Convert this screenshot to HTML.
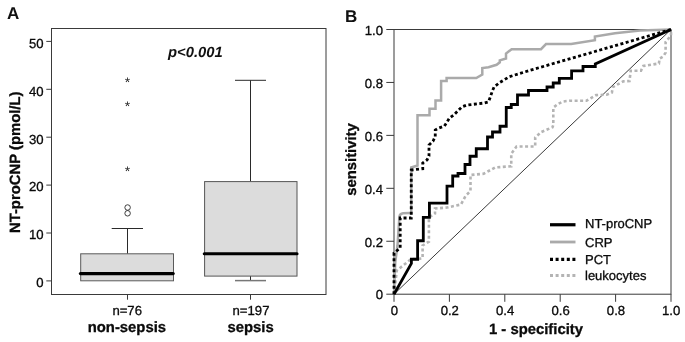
<!DOCTYPE html>
<html><head><meta charset="utf-8">
<style>
html,body{margin:0;padding:0;background:#fff;}
svg{display:block;font-family:"Liberation Sans",sans-serif;text-rendering:geometricPrecision;}
svg{filter:grayscale(1);}
.t{font-size:13.15px;fill:#0a0a0a;stroke:#0a0a0a;stroke-width:0.3px;}
.b{font-size:14.85px;font-weight:bold;fill:#0a0a0a;stroke:#0a0a0a;stroke-width:0.3px;}
.ax{stroke:#3a3a3a;stroke-width:1;fill:none;}
</style></head><body>
<svg width="685" height="342" viewBox="0 0 685 342">
<rect width="685" height="342" fill="#fff"/>

<!-- ===== Panel A ===== -->
<text x="7" y="18.6" font-size="17" font-weight="bold" fill="#111">A</text>
<rect class="ax" x="51.5" y="28.5" width="274.5" height="266"/>
<!-- y ticks -->
<g class="ax">
<path d="M46.3 41.4H51.5M46.3 89.3H51.5M46.3 137.2H51.5M46.3 185.1H51.5M46.3 233H51.5M46.3 280.9H51.5"/>
<path d="M127.5 294.5V299.7M250.5 294.5V299.7"/>
</g>
<g class="t" text-anchor="end">
<text x="43.5" y="47.7">50</text>
<text x="43.5" y="95.6">40</text>
<text x="43.5" y="143.5">30</text>
<text x="43.5" y="191.4">20</text>
<text x="43.5" y="239.3">10</text>
<text x="43.5" y="287.2">0</text>
</g>
<text class="b" transform="translate(19.8,162.3) rotate(-90)" text-anchor="middle">NT-proCNP (pmol/L)</text>
<text x="195.4" y="57" font-size="14.8" font-weight="bold" font-style="italic" fill="#111" text-anchor="middle">p&lt;0.001</text>

<!-- box 1 -->
<g stroke="#2a2a2a" stroke-width="1" fill="none">
<path d="M127.5 228.5V253.8M111.7 228.5H143"/>
<rect x="80.7" y="253.8" width="92.8" height="27" fill="#dcdcdc" stroke="#5a5a5a"/>
</g>
<path d="M80.4 273.6H173.2" stroke="#000" stroke-width="3.1" stroke-linecap="round"/>
<circle cx="127.6" cy="207.5" r="2.75" fill="none" stroke="#2a2a2a" stroke-width="0.9"/>
<circle cx="127.6" cy="213.3" r="2.75" fill="none" stroke="#2a2a2a" stroke-width="0.9"/>
<g font-size="14" fill="#222" text-anchor="middle">
<text x="127.5" y="87.2">*</text>
<text x="127.5" y="110.5">*</text>
<text x="127.5" y="175.9">*</text>
</g>
<!-- box 2 -->
<g stroke="#2a2a2a" stroke-width="1" fill="none">
<path d="M250.5 80.3V181.5M235 80.3H266M250.5 276V280.5"/>
<rect x="204.6" y="181.6" width="92.4" height="94.5" fill="#dcdcdc" stroke="#555"/>
</g>
<path d="M235 280.6H266" stroke="#777" stroke-width="1.5"/>
<path d="M204.3 253.7H297" stroke="#000" stroke-width="3.1" stroke-linecap="round"/>

<g class="t" text-anchor="middle">
<text x="127.2" y="315.2">n=76</text>
<text x="251" y="315.2">n=197</text>
</g>
<g class="b" text-anchor="middle">
<text x="126.9" y="331.6">non-sepsis</text>
<text x="250.6" y="331.6">sepsis</text>
</g>

<!-- ===== Panel B ===== -->
<text x="345" y="22.2" font-size="17" font-weight="bold" fill="#111">B</text>
<rect class="ax" x="394" y="29.5" width="277" height="264.7"/>
<g class="ax">
<path d="M386.3 29.5H394M386.3 82.44H394M386.3 135.38H394M386.3 188.32H394M386.3 241.26H394M386.3 294.2H394"/>
<path d="M394 294.2V301.8M449.4 294.2V301.8M504.8 294.2V301.8M560.2 294.2V301.8M615.6 294.2V301.8M671 294.2V301.8"/>
<path d="M394 294.2L671 29.5" stroke-width="0.9" stroke="#222"/>
</g>
<g class="t" text-anchor="end">
<text x="383" y="34.7">1.0</text>
<text x="383" y="87.7">0.8</text>
<text x="383" y="140.6">0.6</text>
<text x="383" y="193.6">0.4</text>
<text x="383" y="246.5">0.2</text>
<text x="383" y="299.4">0</text>
</g>
<g class="t" text-anchor="middle">
<text x="394.3" y="315">0</text>
<text x="449.8" y="315">0.2</text>
<text x="505.2" y="315">0.4</text>
<text x="560.6" y="315">0.6</text>
<text x="616" y="315">0.8</text>
<text x="671.2" y="315">1.0</text>
</g>
<text class="b" x="536" y="333.5" text-anchor="middle">1 - specificity</text>
<text class="b" transform="translate(355.5,159.5) rotate(-90)" text-anchor="middle">sensitivity</text>

<!-- curves -->
<g fill="none" stroke-linejoin="miter">
<!-- leukocytes -->
<path id="leu" stroke="#b4b4b4" stroke-width="2.6" stroke-dasharray="3 2.5"
 d="M394 294.2L396.8 270.5L407.5 262L411 259H417.5L422.6 258.3V245.5L428.9 241.7V217.5L435 213.5V208.5L447 207.5L461 204.5L465.5 196L470.5 191V175L483.75 173.75L495 167.5L511.25 166.25V153.75L516.5 146.5H535.2V137.5L541.4 132L552.5 127.3L553.3 125V107.5L558 104L563 101.5L569.8 100.7H586.5L596.1 95.1L606.7 94.7L611.9 92.5L612.8 87.2L617.2 84.6L623.3 81.4L629.5 81L630.7 70.7H641L643.3 66L658.9 63.5L659.6 58.6L663.4 56.3L665.6 52.6V42L671 35.5V29.5"/>
<!-- CRP -->
<path id="crp" stroke="#aaaaaa" stroke-width="2.5"
 d="M394 294.2L395.3 262L397.5 245.5L399.4 216.75Q400 213.5 403 213.3L410 213H411.25V167.5L417.5 165.5V115.3H429.5V108.8H435.5V100.5H441.1V81H446.6V78.1H476.25L482.3 74.5V68L488.5 67.3L496.6 64.8L499.8 62.3V60.4L506 58.5V53.5L511.6 49.2H541L546 44.1H571.2L594.9 40.2V36.5L615 33.2L640 30.6L671 29.5"/>
<!-- PCT -->
<path id="pct" stroke="#000" stroke-width="2.8" stroke-dasharray="3 2.5"
 d="M394 294.2V253L400.2 248V218H411.25V170L422.75 168.75V163L427 160L429 156V145L433 141.25L435.25 136.5V130L438.75 128.1L444.4 126L446.9 122.25L449.4 118.1L453.75 115L457.75 111L461.9 106.9L466.9 105L472.5 104.4L483.5 103.1L488.5 101.9L490.4 96.9L492.25 91.25L494.1 86.9L499.75 82.5L509.3 76.7L530 70.3L671 29.5"/>
<!-- NT-proCNP -->
<path id="nt" stroke="#000" stroke-width="2.8"
 d="M394 294.2L411.4 263.5V259.25H417.6V240.75H423.3V217.4H429.4V203.2H447V186.2H452.7V176H458V173.5H465V164.5H470V156.25H476.25V148.75H487.5V137H492.5V132H500V126.25H506.25V107.5H511.25V104.5H517.5V95H528.5V90.5H547V87H553.2V83H559.3V78.4H571.6V70.9H583V66.5H595.3V64L671 29.5"/>
</g>

<!-- legend -->
<g fill="none">
<path d="M550 224.75H575.5" stroke="#000" stroke-width="3.2"/>
<path d="M550 242H575.5" stroke="#aaa" stroke-width="2.8"/>
<path d="M550 259.4H575.5" stroke="#000" stroke-width="3.2" stroke-dasharray="3 2.6"/>
<path d="M550 275.6H575.5" stroke="#b4b4b4" stroke-width="3" stroke-dasharray="3 2.6"/>
</g>
<g class="t" style="font-size:13px">
<text x="585" y="228.3">NT-proCNP</text>
<text x="585" y="246.5">CRP</text>
<text x="585" y="263.5">PCT</text>
<text x="585" y="279.5">leukocytes</text>
</g>
</svg>
</body></html>
